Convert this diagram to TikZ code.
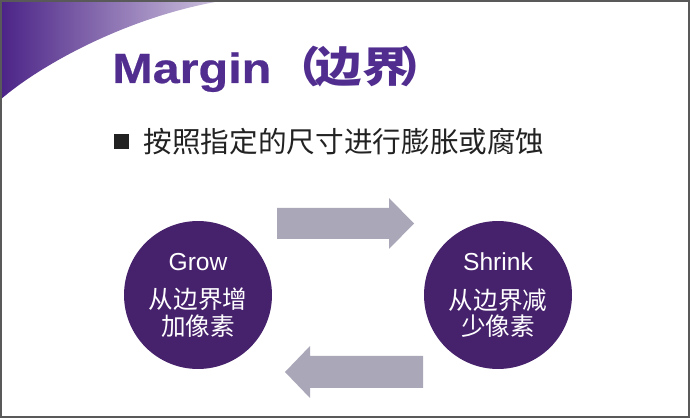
\documentclass[tikz,border=0pt]{standalone}
\usepackage{fontspec}
\setmainfont{Liberation Sans}
\newfontfamily\cjk{Noto Sans CJK SC}
\newfontfamily\titlefont[FakeStretch=1.15,FakeBold=0.6]{Liberation Sans}
\newfontfamily\titlecjk[FakeStretch=1.1]{Noto Sans CJK SC}
\usepackage{xcolor}
\usepackage{tikz}
\usetikzlibrary{
  positioning
}
\definecolor{titlepurple}{HTML}{502D8F}
\definecolor{swooshpurple}{HTML}{4B2387}
\definecolor{circlepurple}{HTML}{46216C}
\definecolor{arrowgrey}{HTML}{A9A7B8}
\definecolor{framegrey}{HTML}{595959}
\definecolor{bodytext}{HTML}{222222}

\begin{document}
\begin{tikzpicture}[
  x=0.02cm, y=-0.02cm,
  circlebox/.style={
    circle, fill=circlepurple, text=white,
    minimum size=2.96cm, inner sep=0pt,
    align=center, font=\fontsize{14}{15}\selectfont
  },
  blockarrow/.style={
    fill=arrowgrey
  }
]
\useasboundingbox (0,0) rectangle (690,418);

% corner swoosh and frame
\shade[left color=swooshpurple, right color=swooshpurple!25]
  (0,0) -- (227,0) .. controls (130,15) and (40,65) .. (0,100) -- cycle;
\draw[framegrey, line width=0.04cm] (1,1) rectangle (689,417);

\node[anchor=base west, inner sep=0pt, text=titlepurple] (title) at (112,83)
  {\titlefont\bfseries\fontsize{24}{28}\selectfont Margin\titlecjk\kern2pt （\kern-3pt边界\kern-5pt）};

\node[fill=bodytext, minimum size=0.3cm, inner sep=0pt] (bullet) at (121.5,141.5) {};
\node[right=0.28cm of bullet, inner sep=0pt, text=bodytext,
      font=\cjk\fontsize{16.3}{20}\selectfont] (point)
  {按照指定的尺寸进行膨胀或腐蚀};

\node[circlebox] (grow) at (198,295)
  {Grow\\[7pt]\cjk 从边界增\\\cjk 加像素};
\node[circlebox] (shrink) at (498,295)
  {Shrink\\[7pt]\cjk 从边界减\\\cjk 少像素};

% block arrows between the circles
\fill[blockarrow] (277,208) -- (389,208) -- (389,198) -- (414,223.5)
  -- (389,249) -- (389,239) -- (277,239) -- cycle;
\fill[blockarrow] (423,356) -- (310,356) -- (310,346) -- (285,372)
  -- (310,398) -- (310,388) -- (423,388) -- cycle;

\end{tikzpicture}
\end{document}
